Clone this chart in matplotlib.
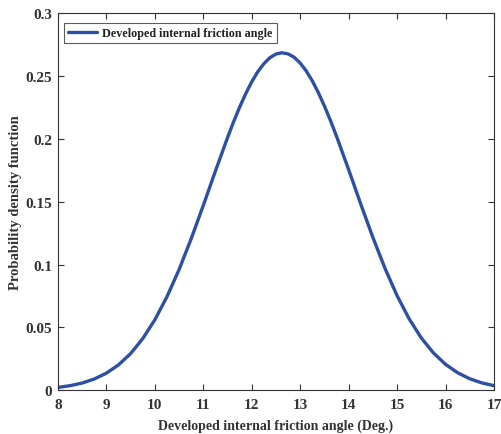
import numpy as np
import matplotlib.pyplot as plt
from matplotlib.ticker import FuncFormatter

# values
angle = [8.0, 8.25, 8.5, 8.75, 9.0, 9.25, 9.5, 9.75, 10.0, 10.25, 10.5, 10.75,
         11.0, 11.25, 11.5, 11.625, 11.75, 11.875, 12.0, 12.125, 12.25, 12.375,
         12.5, 12.625, 12.75, 12.875, 13.0, 13.125, 13.25, 13.375, 13.5, 13.625,
         13.75, 14.0, 14.25, 14.5, 14.75, 15.0, 15.25, 15.5, 15.75, 16.0, 16.25,
         16.5, 16.75, 17.0]
pdf = [0.0021, 0.0035, 0.0056, 0.0088, 0.0135, 0.0201, 0.0291, 0.0410, 0.0560,
       0.0744, 0.0960, 0.1206, 0.1471, 0.1745, 0.2011, 0.2137, 0.2254, 0.2361,
       0.2456, 0.2536, 0.2600, 0.2648, 0.2677, 0.2687, 0.2678, 0.2651, 0.2605,
       0.2542, 0.2463, 0.2369, 0.2263, 0.2147, 0.2022, 0.1756, 0.1482, 0.1216,
       0.0970, 0.0752, 0.0567, 0.0415, 0.0296, 0.0205, 0.0138, 0.0090, 0.0057,
       0.0035]

xticks = [8, 9, 10, 11, 12, 13, 14, 15, 16, 17]
yticks = [0, 0.05, 0.1, 0.15, 0.2, 0.25, 0.3]

plt.rcParams.update({
    "font.family": ["Liberation Serif", "DejaVu Serif"],
    "font.weight": "bold",
})
axc = "#333333"

fig = plt.figure(figsize=(5.02, 4.35), dpi=100, facecolor="white")
ax = fig.add_axes([0.1155, 0.101, 0.8685, 0.8657])

ax.plot(angle, pdf, color="#2E4FA6", lw=2.4, solid_joinstyle="round",
        solid_capstyle="round", label="Developed internal friction angle")

ax.set_xlim(8, 17)
ax.set_ylim(0, 0.3)
ax.set_xticks(xticks)
ax.set_yticks(yticks)
ax.yaxis.set_major_formatter(FuncFormatter(lambda v, p: f"{v:g}"))
ax.tick_params(direction="in", length=4, width=0.8, colors=axc,
               top=True, right=True, labelsize=11)
ax.tick_params(axis="x", pad=6)
ax.tick_params(axis="y", pad=4)
for lab in ax.get_xticklabels() + ax.get_yticklabels():
    lab.set_fontweight("bold")
for s in ax.spines.values():
    s.set_color(axc)
    s.set_linewidth(0.8)

ax.set_xlabel("Developed internal friction angle (Deg.)", fontsize=10,
              fontweight="bold", color=axc, labelpad=5)
ax.set_ylabel("Probability density function", fontsize=10.5,
              fontweight="bold", color=axc, labelpad=3)

leg = ax.legend(loc="upper left", bbox_to_anchor=(0.014, 0.975),
                borderaxespad=0, fontsize=8.7, frameon=True, fancybox=False,
                handlelength=2.4, borderpad=0.35, handletextpad=0.4)
leg.get_frame().set_edgecolor(axc)
leg.get_frame().set_linewidth(0.8)
for t in leg.get_texts():
    t.set_fontweight("bold")
    t.set_color("#222222")

fig.savefig("out.png", dpi=100)
